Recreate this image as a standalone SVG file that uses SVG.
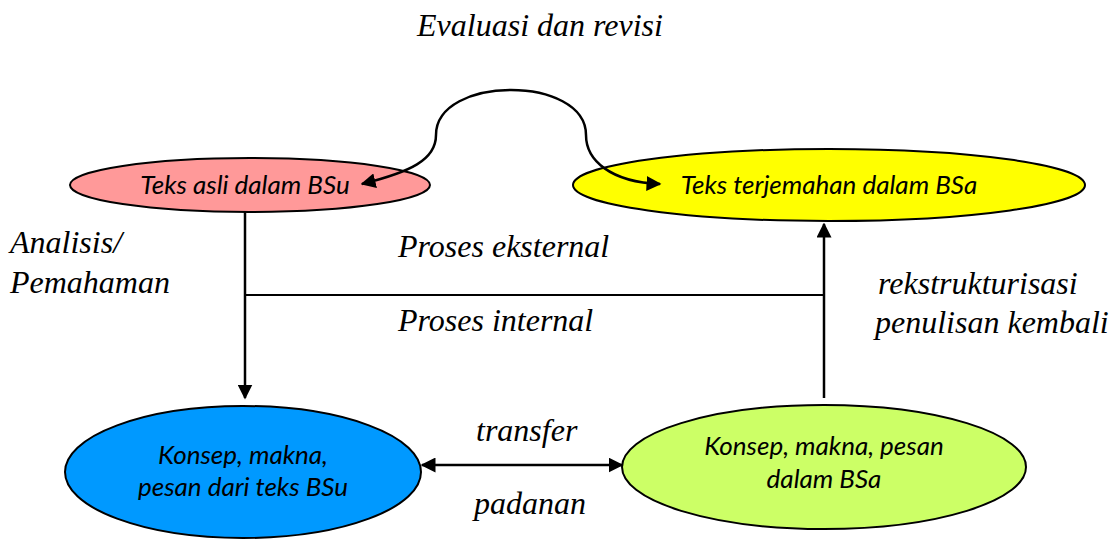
<svg xmlns="http://www.w3.org/2000/svg" width="1114" height="540" viewBox="0 0 1114 540">
<style>
.lbl{font-family:"Liberation Serif","Times New Roman",serif;font-style:italic;font-size:32px;fill:#000}
.nt{font-family:Lato,"Open Sans","Liberation Sans",sans-serif;font-style:italic;font-size:26px;fill:#000;text-anchor:middle}
.el{stroke:#000;stroke-width:2}
.cn{fill:none;stroke:#000;stroke-width:2.5}
</style>
<defs>
<marker id="ah" viewBox="0 0 10 10" refX="9" refY="5" markerWidth="6" markerHeight="6" markerUnits="strokeWidth" orient="auto-start-reverse">
<path d="M0,0 L10,5 L0,10 z" fill="#000"/>
</marker>
</defs>
<rect width="1114" height="540" fill="#fff"/>
<g id="node-teks-asli">
<ellipse class="el" cx="250" cy="185" rx="180" ry="27" fill="#ff9999"/>
<text class="nt" x="245" y="194">Teks asli dalam BSu</text>
</g>
<g id="node-teks-terjemahan">
<ellipse class="el" cx="829" cy="185" rx="256" ry="36" fill="#ffff00"/>
<text class="nt" x="829" y="194">Teks terjemahan dalam BSa</text>
</g>
<g id="node-konsep-bsu">
<ellipse class="el" cx="243" cy="472" rx="178" ry="66" fill="#0099ff"/>
<text class="nt" x="243" y="464">Konsep, makna,</text>
<text class="nt" x="243" y="496">pesan dari teks BSu</text>
</g>
<g id="node-konsep-bsa">
<ellipse class="el" cx="824" cy="467" rx="202" ry="62" fill="#ccff66"/>
<text class="nt" x="824" y="455">Konsep, makna, pesan</text>
<text class="nt" x="824" y="488">dalam BSa</text>
</g>
<g id="connectors">
<path class="cn" d="M245 212 L245 398" marker-end="url(#ah)"/>
<path class="cn" d="M824 398 L824 224" marker-end="url(#ah)"/>
<path d="M245 295 L824 295" fill="none" stroke="#000" stroke-width="1.8"/>
<path class="cn" d="M422 465 L622 465" marker-start="url(#ah)" marker-end="url(#ah)"/>
<path class="cn" d="M362 184 C410 172,436 160,436 135 C436 75,586 75,586 135 C586 160,610 182,660 184" marker-start="url(#ah)" marker-end="url(#ah)"/>
</g>
<g id="labels">
<text class="lbl" x="540" y="36" text-anchor="middle">Evaluasi dan revisi</text>
<text class="lbl" x="10" y="253">Analisis/</text>
<text class="lbl" x="10" y="293">Pemahaman</text>
<text class="lbl" x="398" y="257">Proses eksternal</text>
<text class="lbl" x="398" y="331">Proses internal</text>
<text class="lbl" x="878" y="294">rekstrukturisasi</text>
<text class="lbl" x="875" y="333">penulisan kembali</text>
<text class="lbl" x="476" y="441">transfer</text>
<text class="lbl" x="474" y="514">padanan</text>
</g>
</svg>
